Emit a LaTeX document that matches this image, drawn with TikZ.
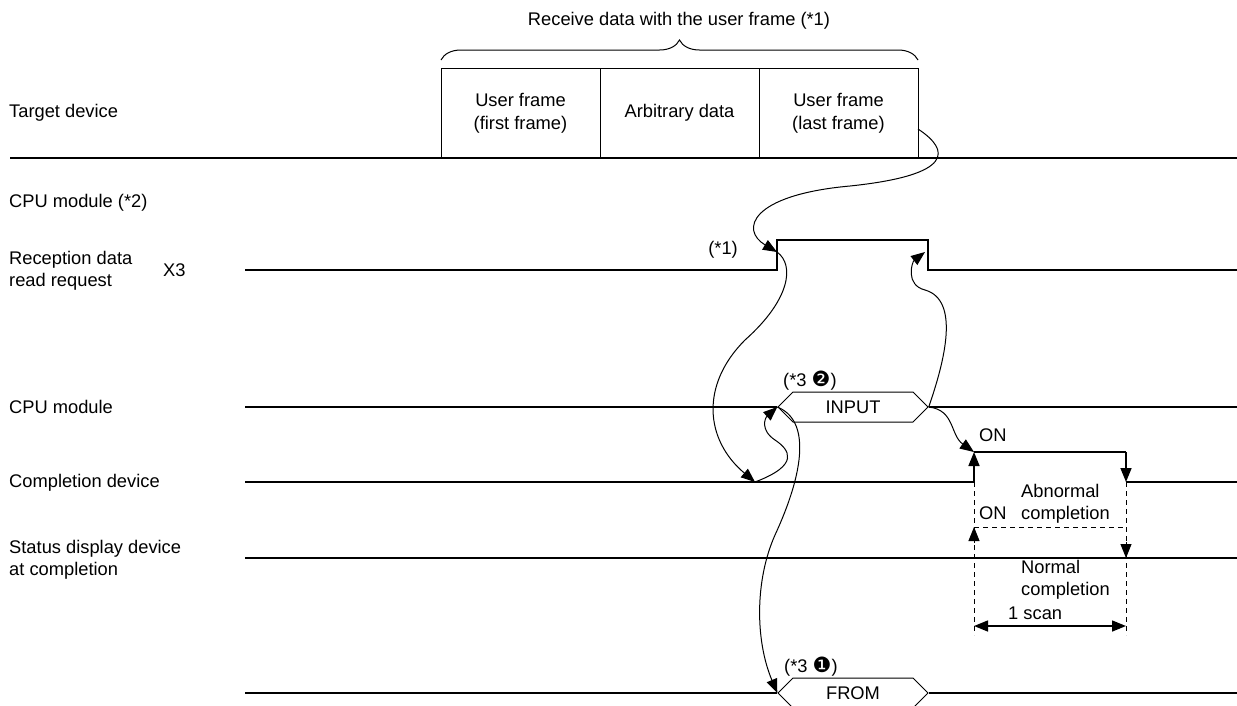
\documentclass[tikz,border=0pt]{standalone}
\usepackage{fontspec}
\setmainfont{Liberation Sans}
\newfontfamily\dingbat{DejaVu Sans}
\usetikzlibrary{arrows.meta,positioning,shapes.symbols,decorations.pathreplacing}
\tikzset{
  rowlabel/.style={font=\fontsize{18.3}{22}\selectfont, inner sep=0pt, anchor=west, align=left},
  note/.style={font=\fontsize{18.3}{22}\selectfont, inner sep=0pt, align=center},
  framebox/.style={draw, line width=1pt, outer sep=0pt, minimum width=159pt, minimum height=90pt, font=\fontsize{18.3}{23}\selectfont, align=center},
  instr/.style={draw, line width=1pt, signal, signal to=west and east, signal pointer angle=90, minimum width=150pt, minimum height=30pt, inner sep=0pt, font=\fontsize{18.3}{22}\selectfont},
  sig/.style={line width=1.6pt},
  tip/.style={-{Triangle[length=14pt,width=11pt]}},
  flow/.style={tip, line width=1pt},
  dashline/.style={dash pattern=on 5pt off 4pt, line width=1pt}
}

\begin{document}
\begin{tikzpicture}[x=1pt, y=-1pt]
\useasboundingbox (0,0) rectangle (1237,705);
\clip (0,0) rectangle (1237,705);
% row labels
\node[rowlabel] (tdev) at (9,113) {Target device};
\node[rowlabel] (cpu2) at (9,203) {CPU module (*2)};
\node[rowlabel] (rreq) at (9,271) {Reception data\\read request};
\node[rowlabel] (x3) at (163,270) {X3};
\node[rowlabel] (cpu) at (9,407) {CPU module};
\node[rowlabel] (cdev) at (9,483) {Completion device};
\node[rowlabel] (sdev) at (9,560) {Status display device\\at completion};

% received user frame
\node[framebox] (f1) at (520.5,113) {User frame\\(first frame)};
\node[framebox, right=0pt of f1] (f2) {Arbitrary data};
\node[framebox, right=0pt of f2] (f3) {User frame\\(last frame)};
\draw[decorate, decoration={brace, amplitude=20pt}, line width=1pt] ([yshift=8pt]f1.north west) -- ([yshift=8pt]f3.north east);
\node[note] (recv) at (679,21) {Receive data with the user frame (*1)};

% time lines
\draw[sig] (10,158) -- (1237,158);
\draw[sig] (245,270) -- (777,270) -- (777,240) -- (928,240) -- (928,270) -- (1237,270);
\node[instr] (input) at (853,407) {INPUT};
\draw[sig] (245,407) -- (input.west);
\draw[sig] (input.east) -- (1237,407);
\node[instr] (from) at (853,693) {FROM};
\draw[sig] (245,693) -- (from.west);
\draw[sig] (from.east) -- (1237,693);
\draw[sig] (245,482) -- (974,482);
\draw[sig] (974,452) -- (1126,452);
\draw[sig] (1126,482) -- (1237,482);
\draw[sig, tip] (974,482) -- (974,452);
\draw[sig, tip] (1126,452) -- (1126,482);
\draw[sig] (245,558) -- (1237,558);

% status device (abnormal) and scan width
\draw[dashline] (974,482) -- (974,635);
\draw[dashline] (1126,482) -- (1126,635);
\draw[dashline] (974,527) -- (1126,527);
\draw[tip, line width=1pt] (974,543) -- (974,527);
\draw[tip, line width=1pt] (1126,542) -- (1126,558);
\coordinate (scanl) at (974,626);
\coordinate (scanr) at (1126,626);
\draw[{Triangle[length=14pt,width=11pt]}-{Triangle[length=14pt,width=11pt]}, line width=1.5pt] (scanl) -- (scanr);

% notes
\node[rowlabel, anchor=east] (n1) at (738,250) {(*1)};
\node[rowlabel] (n32) at (783,381) {(*3 {\dingbat\fontsize{21}{22}\selectfont ❷})};
\node[rowlabel] (n31) at (784,667) {(*3 {\dingbat\fontsize{21}{22}\selectfont ❶})};
\node[rowlabel] (on1) at (979,435) {ON};
\node[rowlabel] (on2) at (979,513) {ON};
\node[rowlabel] (abn) at (1021,504) {Abnormal\\completion};
\node[rowlabel] (nrm) at (1021,580) {Normal\\completion};
\node[rowlabel] (scan) at (1008,613) {1 scan};

% flow of processing
\coordinate (x3rise) at (777,252);
\coordinate (x3fall) at (925,252);
\coordinate (cmpin) at (755,482);
\coordinate (cmprise) at (974,452);
\draw[flow] ([yshift=-16pt]f3.east) .. controls (950,150) and (955,175) .. (850,186) .. controls (750,195) and (740,230) .. (x3rise);
\draw[flow] (x3rise) .. controls (795,265) and (790,300) .. (745,340) .. controls (700,385) and (705,440) .. (cmpin);
\draw[flow] (cmpin) .. controls (800,465) and (790,450) .. (775,440) .. controls (760,430) and (765,418) .. (input.west);
\draw[flow] (input.west) .. controls (810,420) and (805,470) .. (775,535) .. controls (755,580) and (755,640) .. (from.west);
\draw[flow] (input.east) .. controls (945,360) and (960,300) .. (925,290) .. controls (905,285) and (912,262) .. (x3fall);
\draw[flow] (input.east) .. controls (955,410) and (950,435) .. (cmprise);
\end{tikzpicture}
\end{document}
